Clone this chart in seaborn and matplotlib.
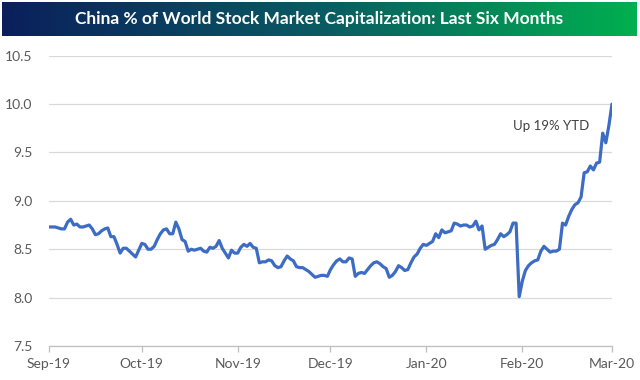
import numpy as np
import pandas as pd
import matplotlib
matplotlib.use("Agg")
import matplotlib.pyplot as plt
import matplotlib.dates as mdates
from matplotlib.colors import LinearSegmentedColormap
import seaborn as sns

# ---------------- data ----------------
title = "China % of World Stock Market Capitalization: Last Six Months"
start_date = "2019-09-03"
end_date = "2020-03-03"
share = [
    8.73, 8.73, 8.73, 8.72, 8.71, 8.71, 8.78,
    8.81, 8.75, 8.76, 8.73, 8.73, 8.74, 8.75,
    8.71, 8.65, 8.66, 8.69, 8.71, 8.72, 8.63,
    8.63, 8.55, 8.46, 8.51, 8.51, 8.48, 8.45,
    8.42, 8.49, 8.56, 8.55, 8.50, 8.50, 8.53,
    8.60, 8.66, 8.70, 8.71, 8.66, 8.66, 8.78,
    8.71, 8.60, 8.58, 8.48, 8.50, 8.49, 8.50,
    8.51, 8.48, 8.47, 8.52, 8.51, 8.53, 8.59,
    8.51, 8.46, 8.41, 8.49, 8.46, 8.46, 8.52,
    8.55, 8.53, 8.56, 8.52, 8.51, 8.36, 8.37,
    8.37, 8.39, 8.38, 8.33, 8.31, 8.32, 8.38,
    8.43, 8.40, 8.38, 8.32, 8.31, 8.31, 8.29,
    8.27, 8.24, 8.21, 8.22, 8.23, 8.23, 8.22,
    8.29, 8.34, 8.38, 8.40, 8.37, 8.37, 8.41,
    8.40, 8.22, 8.25, 8.26, 8.25, 8.29, 8.33,
    8.36, 8.37, 8.35, 8.32, 8.30, 8.21, 8.23,
    8.27, 8.33, 8.31, 8.28, 8.29, 8.36, 8.42,
    8.45, 8.51, 8.55, 8.54, 8.56, 8.58, 8.66,
    8.62, 8.70, 8.67, 8.68, 8.69, 8.77, 8.76,
    8.74, 8.75, 8.75, 8.73, 8.74, 8.79, 8.70,
    8.74,
    8.50, 8.52, 8.54, 8.55, 8.60, 8.66,
    8.63, 8.65, 8.68, 8.77, 8.77, 8.01, 8.17,
    8.28, 8.33, 8.36, 8.38, 8.39, 8.48, 8.53,
    8.50, 8.47, 8.48, 8.48, 8.50, 8.77, 8.75,
    8.84, 8.91, 8.96, 8.98, 9.04, 9.29, 9.30,
    9.36, 9.32, 9.39, 9.40, 9.70, 9.60, 9.78,
    10.00,
]
y_ticks = [7.5, 8.0, 8.5, 9.0, 9.5, 10.0, 10.5]
annotation = "Up 19% YTD"
annotation_date = "2020-01-31"
annotation_value = 9.77

dates = pd.date_range(start_date, end_date, freq="D")
df = pd.DataFrame({"date": dates, "share": share})

# ---------------- style ----------------
sns.set_style("white")
plt.rcParams["font.family"] = ["Lato", "DejaVu Sans"]

fig = plt.figure(figsize=(6.4, 3.8), dpi=100)
fig.patch.set_facecolor("white")

# title bar with gradient
tax = fig.add_axes([2 / 640, 1 - 36 / 380, 635 / 640, 34 / 380])
cmap = LinearSegmentedColormap.from_list("bar", ["#0a1f5c", "#0a5a62", "#00b050"])
grad = np.linspace(0, 1, 256).reshape(1, -1)
tax.imshow(grad, aspect="auto", cmap=cmap, extent=[0, 1, 0, 1])
tax.set_xlim(0, 1)
tax.set_ylim(0, 1)
tax.axis("off")
tax.text(0.5, 0.5, title, color="white", fontsize=12.5, fontweight="bold",
         ha="center", va="center", family=["Lato", "DejaVu Sans"])

# main axes
ax = fig.add_axes([49 / 640, 1 - 346 / 380, (612 - 49) / 640, (346 - 55.7) / 380])
sns.lineplot(data=df, x="date", y="share", ax=ax, color="#3d6cc4", linewidth=2.3)

ax.set_xlim(pd.Timestamp(start_date), pd.Timestamp(end_date))
ax.set_ylim(7.5, 10.5)
ax.set_yticks(y_ticks)
ax.set_yticklabels([f"{v:.1f}" for v in y_ticks])
ax.xaxis.set_major_locator(mdates.MonthLocator(bymonthday=3))
ax.xaxis.set_major_formatter(mdates.DateFormatter("%b-%y"))
ax.set_xlabel("")
ax.set_ylabel("")

ax.grid(axis="y", color="#d9d9d9", linewidth=0.9)
ax.grid(axis="x", visible=False)
for s in ["top", "right", "left"]:
    ax.spines[s].set_visible(False)
ax.spines["bottom"].set_color("#bfbfbf")
ax.spines["bottom"].set_linewidth(0.9)

ax.tick_params(axis="y", length=0, pad=12, labelsize=10, labelcolor="#595959")
ax.tick_params(axis="x", length=4, width=0.9, color="#bfbfbf", pad=5,
               labelsize=10, labelcolor="#595959", direction="out")
ax.xaxis.set_ticks_position("bottom")

ax.text(pd.Timestamp(annotation_date), annotation_value, annotation,
        fontsize=9.5, color="#404040", ha="left", va="center")

fig.savefig("out.png", dpi=100, facecolor="white")
